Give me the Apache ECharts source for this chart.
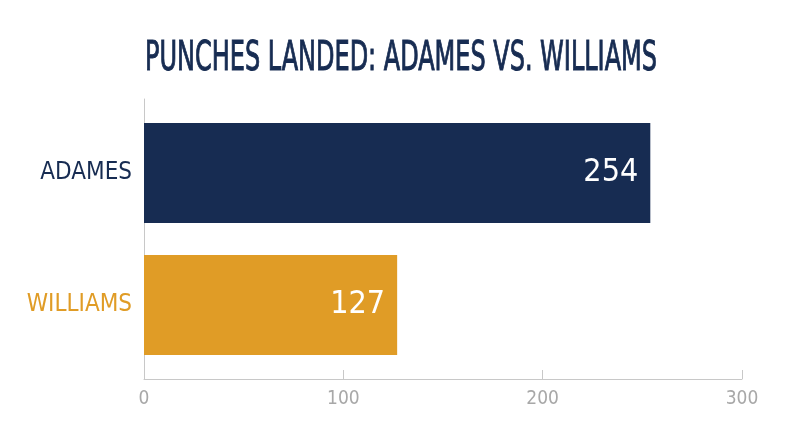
<!DOCTYPE html>
<html>
<head>
<meta charset="utf-8">
<script src="https://cdn.jsdelivr.net/npm/echarts@6/dist/echarts.min.js"></script>
<style>
  html, body { margin: 0; padding: 0; background: #fff; }
  #main { width: 800px; height: 447px; }
</style>
</head>
<body>
<div id="main"></div>
<script>
// data
var fighters = ['WILLIAMS', 'ADAMES'];
var punches = [127, 254];
var barColors = ['#e09c26', '#172c52'];
var xTicks = [0, 100, 200, 300];
var titleText = 'PUNCHES LANDED: ADAMES VS. WILLIAMS';

var FONT = '"DejaVu Sans Condensed", "DejaVu Sans", sans-serif';
var AXIS_GRAY = '#c8c8c8';

var chartDom = document.getElementById('main');
var myChart = echarts.init(chartDom);
var option;

option = {
  animation: false,
  backgroundColor: '#fff',
  // title squeezed sideways to get close to the narrow headline face
  graphic: [{
    type: 'text',
    x: 401,
    y: 59,
    scaleX: 0.65,
    style: {
      text: titleText,
      fill: '#172c52',
      stroke: '#172c52',
      lineWidth: 1,
      font: 'normal 41px ' + FONT,
      textAlign: 'center',
      textVerticalAlign: 'middle'
    }
  }],
  grid: [
    // bars live here
    { left: 144, right: 58, top: 107, bottom: 76 },
    // frame: axis lines + ticks
    { left: 144, right: 58, top: 99, bottom: 68 }
  ],
  xAxis: [{
    gridIndex: 0,
    type: 'value',
    min: xTicks[0],
    max: xTicks[xTicks.length - 1],
    interval: 100,
    show: false
  }, {
    gridIndex: 1,
    type: 'value',
    min: xTicks[0],
    max: xTicks[xTicks.length - 1],
    interval: 100,
    axisLine: { show: true, lineStyle: { color: AXIS_GRAY, width: 1 } },
    axisTick: { show: true, inside: true, length: 9, lineStyle: { color: AXIS_GRAY } },
    splitLine: { show: false },
    axisLabel: { fontFamily: FONT, fontSize: 19, color: '#a8a8a8', margin: 11 }
  }],
  yAxis: [{
    gridIndex: 0,
    type: 'category',
    data: fighters,
    axisLine: { show: false },
    axisTick: { show: false },
    axisLabel: {
      fontFamily: FONT,
      fontSize: 24,
      margin: 12,
      color: function (val) { return barColors[fighters.indexOf(val)]; }
    }
  }, {
    gridIndex: 1,
    type: 'category',
    data: fighters,
    axisLine: { show: true, lineStyle: { color: AXIS_GRAY, width: 1 } },
    axisTick: { show: false },
    axisLabel: { show: false }
  }],
  series: [{
    type: 'bar',
    xAxisIndex: 0,
    yAxisIndex: 0,
    barWidth: 100,
    data: punches.map(function (v, i) {
      return { value: v, itemStyle: { color: barColors[i] } };
    }),
    label: {
      show: true,
      position: 'insideRight',
      distance: 12,
      color: '#fff',
      fontFamily: FONT,
      fontSize: 32
    }
  }]
};

option && myChart.setOption(option);
</script>
</body>
</html>
